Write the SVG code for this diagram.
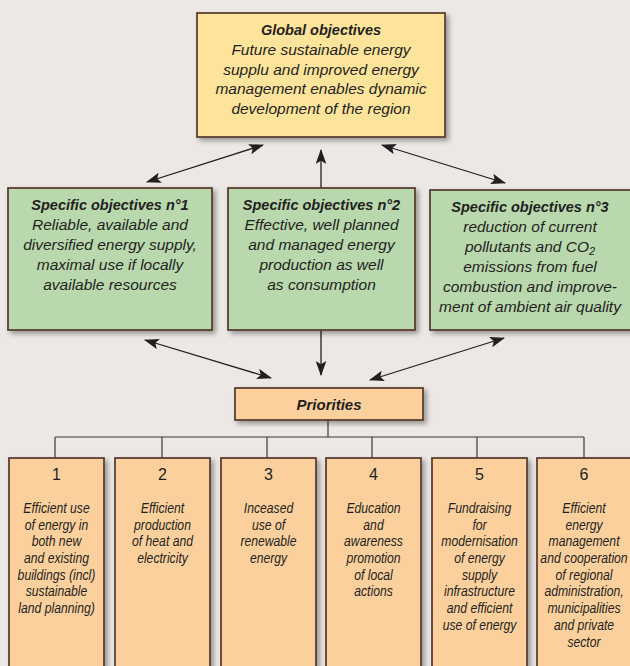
<svg xmlns="http://www.w3.org/2000/svg" width="630" height="666" viewBox="0 0 630 666">
<defs>
<filter id="sh" x="-10%" y="-10%" width="130%" height="130%">
<feDropShadow dx="3" dy="3" stdDeviation="2.5" flood-color="#000" flood-opacity="0.35"/>
</filter>
<marker id="ah" viewBox="0 0 14 10" refX="13" refY="5" markerWidth="15" markerHeight="11" markerUnits="userSpaceOnUse" orient="auto-start-reverse">
<path d="M0,0 L14,5 L0,10 L3,5 Z" fill="#231f20"/>
</marker>
<style>
.box{stroke:#5c4032;stroke-width:1.8;filter:url(#sh)}
.y{fill:#fee49b}
.g{fill:#b9d8ae}
.o{fill:#fcd09d}
text{font-family:"Liberation Sans",Arial,sans-serif;fill:#231f20;text-anchor:middle}
.t{font-size:15.5px;font-style:italic}
.b{font-size:14.5px;font-style:italic;font-weight:bold}
.n{font-size:16px}
.s{font-size:14.5px;font-style:italic}
.c{stroke:#231f20;stroke-width:1.3;fill:none}
.tr{stroke:#3a3a3a;stroke-width:1.2;fill:none}
</style>
</defs>
<rect width="630" height="666" fill="#ebe8e5"/>

<g id="connectors">
<line class="c" x1="147" y1="182" x2="263" y2="145" marker-start="url(#ah)" marker-end="url(#ah)"/>
<line class="c" x1="321" y1="188" x2="321" y2="150" marker-end="url(#ah)"/>
<line class="c" x1="382" y1="145" x2="505" y2="183" marker-start="url(#ah)" marker-end="url(#ah)"/>
<line class="c" x1="145" y1="340" x2="271" y2="378" marker-start="url(#ah)" marker-end="url(#ah)"/>
<line class="c" x1="321" y1="330" x2="321" y2="375" marker-end="url(#ah)"/>
<line class="c" x1="504" y1="338" x2="370" y2="380" marker-start="url(#ah)" marker-end="url(#ah)"/>
<path class="tr" d="M328,420 V437 M55,437 H584 M55,437 V458 M162,437 V458 M267,437 V458 M372,437 V458 M477,437 V458 M584,437 V458"/>
</g>

<g id="global">
<rect class="box y" x="197" y="13" width="248" height="124"/>
<text class="b" x="321" y="35">Global objectives</text>
<text class="t" x="321" y="55">Future sustainable energy</text>
<text class="t" x="321" y="74.5">supplu and improved energy</text>
<text class="t" x="321" y="94">management enables dynamic</text>
<text class="t" x="321" y="113.5">development of the region</text>
</g>

<g id="obj1">
<rect class="box g" x="8" y="188" width="204" height="142"/>
<text class="b" x="110" y="210">Specific objectives n°1</text>
<text class="t" x="110" y="229.5">Reliable, available and</text>
<text class="t" x="110" y="249.5">diversified energy supply,</text>
<text class="t" x="110" y="269.5">maximal use if locally</text>
<text class="t" x="110" y="289.5">available resources</text>
</g>

<g id="obj2">
<rect class="box g" x="228" y="188" width="187" height="142"/>
<text class="b" x="321.5" y="210">Specific objectives n°2</text>
<text class="t" x="321.5" y="229.5">Effective, well planned</text>
<text class="t" x="321.5" y="249.5">and managed energy</text>
<text class="t" x="321.5" y="269.5">production as well</text>
<text class="t" x="321.5" y="289.5">as consumption</text>
</g>

<g id="obj3">
<rect class="box g" x="430" y="190" width="215" height="140"/>
<text class="b" x="530" y="212">Specific objectives n°3</text>
<text class="t" x="530" y="231.5">reduction of current</text>
<text class="t" x="530" y="251.5">pollutants and CO<tspan font-size="11px" dy="3">2</tspan></text>
<text class="t" x="530" y="271.5">emissions from fuel</text>
<text class="t" x="530" y="291.5">combustion and improve-</text>
<text class="t" x="530" y="311.5">ment of ambient air quality</text>
</g>

<g id="priorities">
<rect class="box o" x="235" y="388" width="188" height="32"/>
<text x="329" y="409.5" style="font-size:15px;font-style:italic;font-weight:bold">Priorities</text>
</g>

<g id="p1">
<rect class="box o" x="9" y="458" width="95" height="215"/>
<text class="n" x="56.5" y="480">1</text>
<g transform="translate(56.5,0) scale(0.84,1)">
<text class="s" x="0" y="513">Efficient use</text>
<text class="s" x="0" y="529.7">of energy in</text>
<text class="s" x="0" y="546.4">both new</text>
<text class="s" x="0" y="563.1">and existing</text>
<text class="s" x="0" y="579.8">buildings (incl)</text>
<text class="s" x="0" y="596.5">sustainable</text>
<text class="s" x="0" y="613.2">land planning)</text>
</g>
</g>

<g id="p2">
<rect class="box o" x="115" y="458" width="95" height="215"/>
<text class="n" x="162.5" y="480">2</text>
<g transform="translate(162.5,0) scale(0.84,1)">
<text class="s" x="0" y="513">Efficient</text>
<text class="s" x="0" y="529.7">production</text>
<text class="s" x="0" y="546.4">of heat and</text>
<text class="s" x="0" y="563.1">electricity</text>
</g>
</g>

<g id="p3">
<rect class="box o" x="221" y="458" width="95" height="215"/>
<text class="n" x="268.5" y="480">3</text>
<g transform="translate(268.5,0) scale(0.84,1)">
<text class="s" x="0" y="513">Inceased</text>
<text class="s" x="0" y="529.7">use of</text>
<text class="s" x="0" y="546.4">renewable</text>
<text class="s" x="0" y="563.1">energy</text>
</g>
</g>

<g id="p4">
<rect class="box o" x="326" y="458" width="95" height="215"/>
<text class="n" x="373.5" y="480">4</text>
<g transform="translate(373.5,0) scale(0.84,1)">
<text class="s" x="0" y="513">Education</text>
<text class="s" x="0" y="529.7">and</text>
<text class="s" x="0" y="546.4">awareness</text>
<text class="s" x="0" y="563.1">promotion</text>
<text class="s" x="0" y="579.8">of local</text>
<text class="s" x="0" y="596.5">actions</text>
</g>
</g>

<g id="p5">
<rect class="box o" x="432" y="458" width="95" height="215"/>
<text class="n" x="479.5" y="480">5</text>
<g transform="translate(479.5,0) scale(0.84,1)">
<text class="s" x="0" y="513">Fundraising</text>
<text class="s" x="0" y="529.7">for</text>
<text class="s" x="0" y="546.4">modernisation</text>
<text class="s" x="0" y="563.1">of energy</text>
<text class="s" x="0" y="579.8">supply</text>
<text class="s" x="0" y="596.5">infrastructure</text>
<text class="s" x="0" y="613.2">and efficient</text>
<text class="s" x="0" y="629.9">use of energy</text>
</g>
</g>

<g id="p6">
<rect class="box o" x="537" y="458" width="100" height="215"/>
<text class="n" x="584" y="480">6</text>
<g transform="translate(584,0) scale(0.84,1)">
<text class="s" x="0" y="513">Efficient</text>
<text class="s" x="0" y="529.7">energy</text>
<text class="s" x="0" y="546.4">management</text>
<text class="s" x="0" y="563.1">and cooperation</text>
<text class="s" x="0" y="579.8">of regional</text>
<text class="s" x="0" y="596.5">administration,</text>
<text class="s" x="0" y="613.2">municipalities</text>
<text class="s" x="0" y="629.9">and private</text>
<text class="s" x="0" y="646.6">sector</text>
</g>
</g>
</svg>
